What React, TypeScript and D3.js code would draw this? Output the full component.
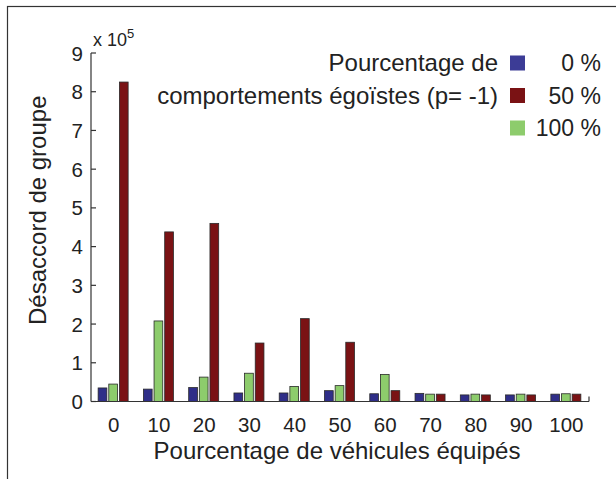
import { useEffect, useRef } from 'react';
import * as d3 from 'd3';

// Categories (% of equipped vehicles)
const categories = ['0', '10', '20', '30', '40', '50', '60', '70', '80', '90', '100'];

// Group disagreement (x 10^5) per share of selfish behaviour
const selfish0 = [0.35, 0.32, 0.36, 0.22, 0.22, 0.28, 0.2, 0.21, 0.17, 0.17, 0.19];
const selfish50 = [8.25, 4.38, 4.6, 1.51, 2.14, 1.53, 0.28, 0.19, 0.17, 0.17, 0.19];
const selfish100 = [0.45, 2.08, 0.63, 0.73, 0.39, 0.41, 0.7, 0.19, 0.19, 0.19, 0.2];

// bars are drawn in this order inside a group
const barOrder = [
  { key: '0 %', values: selfish0, color: '#2f2e88' },
  { key: '100 %', values: selfish100, color: '#8dcc6c' },
  { key: '50 %', values: selfish50, color: '#7a1214' },
];

// legend order
const legendItems = [
  { label: '0 %', color: '#3c3c96' },
  { label: '50 %', color: '#7a1214' },
  { label: '100 %', color: '#8dcc6c' },
];

const yTicks = [0, 1, 2, 3, 4, 5, 6, 7, 8, 9];

export default function App() {
  const svgRef = useRef<SVGSVGElement>(null);
  const width = 616;
  const height = 479;

  useEffect(() => {
    if (!svgRef.current) return;
    const svg = d3.select(svgRef.current);
    svg.selectAll('*').remove();

    const font = '"Liberation Sans", Arial, sans-serif';
    const ink = '#222';
    const margin = { left: 91, right: 27, top: 53, bottom: 78 };
    const x0 = margin.left;
    const x1 = width - margin.right;
    const yBase = height - margin.bottom + 0.5;

    // frame around the figure
    svg.append('rect')
      .attr('x', 7.5)
      .attr('y', 6.5)
      .attr('width', 700)
      .attr('height', 600)
      .attr('fill', 'none')
      .attr('stroke', '#333')
      .attr('stroke-width', 1.2);

    const xScale = d3.scaleBand<string>()
      .domain(categories)
      .range([x0, x1])
      .paddingInner(0)
      .paddingOuter(0);

    const inner = d3.scaleBand<string>()
      .domain(barOrder.map((d) => d.key))
      .range([-15.5, 14.5])
      .paddingInner(0.18);

    const yScale = d3.scaleLinear().domain([0, 9]).range([yBase, margin.top]);

    // bars
    barOrder.forEach((s) => {
      svg.append('g')
        .selectAll('rect')
        .data(s.values)
        .enter()
        .append('rect')
        .attr('x', (_, i) => (xScale(categories[i]) ?? 0) + xScale.bandwidth() / 2 + (inner(s.key) ?? 0))
        .attr('y', (d) => yScale(d))
        .attr('width', inner.bandwidth())
        .attr('height', (d) => yBase - yScale(d))
        .attr('fill', s.color)
        .attr('stroke', '#2a2a2a')
        .attr('stroke-width', 0.8);
    });

    // axes
    const axisG = svg.append('g').attr('stroke', '#333').attr('stroke-width', 1.2);
    axisG.append('line')
      .attr('x1', x0).attr('x2', x1)
      .attr('y1', yBase).attr('y2', yBase);
    axisG.append('line')
      .attr('x1', x0).attr('x2', x0)
      .attr('y1', yBase).attr('y2', margin.top);
    axisG.append('line')
      .attr('x1', x1).attr('x2', x1)
      .attr('y1', yBase).attr('y2', yBase - 5);

    yTicks.forEach((t) => {
      axisG.append('line')
        .attr('x1', x0).attr('x2', x0 + 5)
        .attr('y1', yScale(t)).attr('y2', yScale(t));
      svg.append('text')
        .attr('x', x0 - 8)
        .attr('y', yScale(t) + 7.5)
        .attr('text-anchor', 'end')
        .attr('font-family', font)
        .attr('font-size', 20.5)
        .attr('fill', ink)
        .text(t);
    });

    categories.forEach((c) => {
      svg.append('text')
        .attr('x', (xScale(c) ?? 0) + xScale.bandwidth() / 2)
        .attr('y', yBase + 30)
        .attr('text-anchor', 'middle')
        .attr('font-family', font)
        .attr('font-size', 20.5)
        .attr('fill', ink)
        .text(c);
    });

    // exponent
    const exp = svg.append('text')
      .attr('x', 93)
      .attr('y', 46)
      .attr('font-family', font)
      .attr('font-size', 18)
      .attr('fill', ink);
    exp.append('tspan').text('x 10');
    exp.append('tspan').attr('font-size', 13).attr('dy', -8).text('5');

    // axis titles
    svg.append('text')
      .attr('x', (x0 + x1) / 2 - 3)
      .attr('y', 459)
      .attr('text-anchor', 'middle')
      .attr('font-family', font)
      .attr('font-size', 24)
      .attr('fill', ink)
      .text('Pourcentage de véhicules équipés');

    svg.append('text')
      .attr('transform', `translate(46, ${(yBase + margin.top) / 2 - 17}) rotate(-90)`)
      .attr('text-anchor', 'middle')
      .attr('font-family', font)
      .attr('font-size', 24)
      .attr('fill', ink)
      .text('Désaccord de groupe');

    // legend
    const legendTitle = ['Pourcentage de', 'comportements égoïstes (p= -1)'];
    legendTitle.forEach((line, i) => {
      svg.append('text')
        .attr('x', 498)
        .attr('y', 71 + i * 33)
        .attr('text-anchor', 'end')
        .attr('font-family', font)
        .attr('font-size', 24)
        .attr('fill', ink)
        .text(line);
    });

    legendItems.forEach((item, i) => {
      const cy = 63 + i * 32.5;
      svg.append('rect')
        .attr('x', 510)
        .attr('y', cy - 7.5)
        .attr('width', 15)
        .attr('height', 15)
        .attr('fill', item.color);
      svg.append('text')
        .attr('x', 601)
        .attr('y', cy + 8)
        .attr('text-anchor', 'end')
        .attr('font-family', font)
        .attr('font-size', 23)
        .attr('fill', ink)
        .text(item.label);
    });
  }, []);

  return (
    <svg
      ref={svgRef}
      width={width}
      height={height}
      style={{ position: 'absolute', left: 0, top: 0, background: '#fff' }}
    />
  );
}
